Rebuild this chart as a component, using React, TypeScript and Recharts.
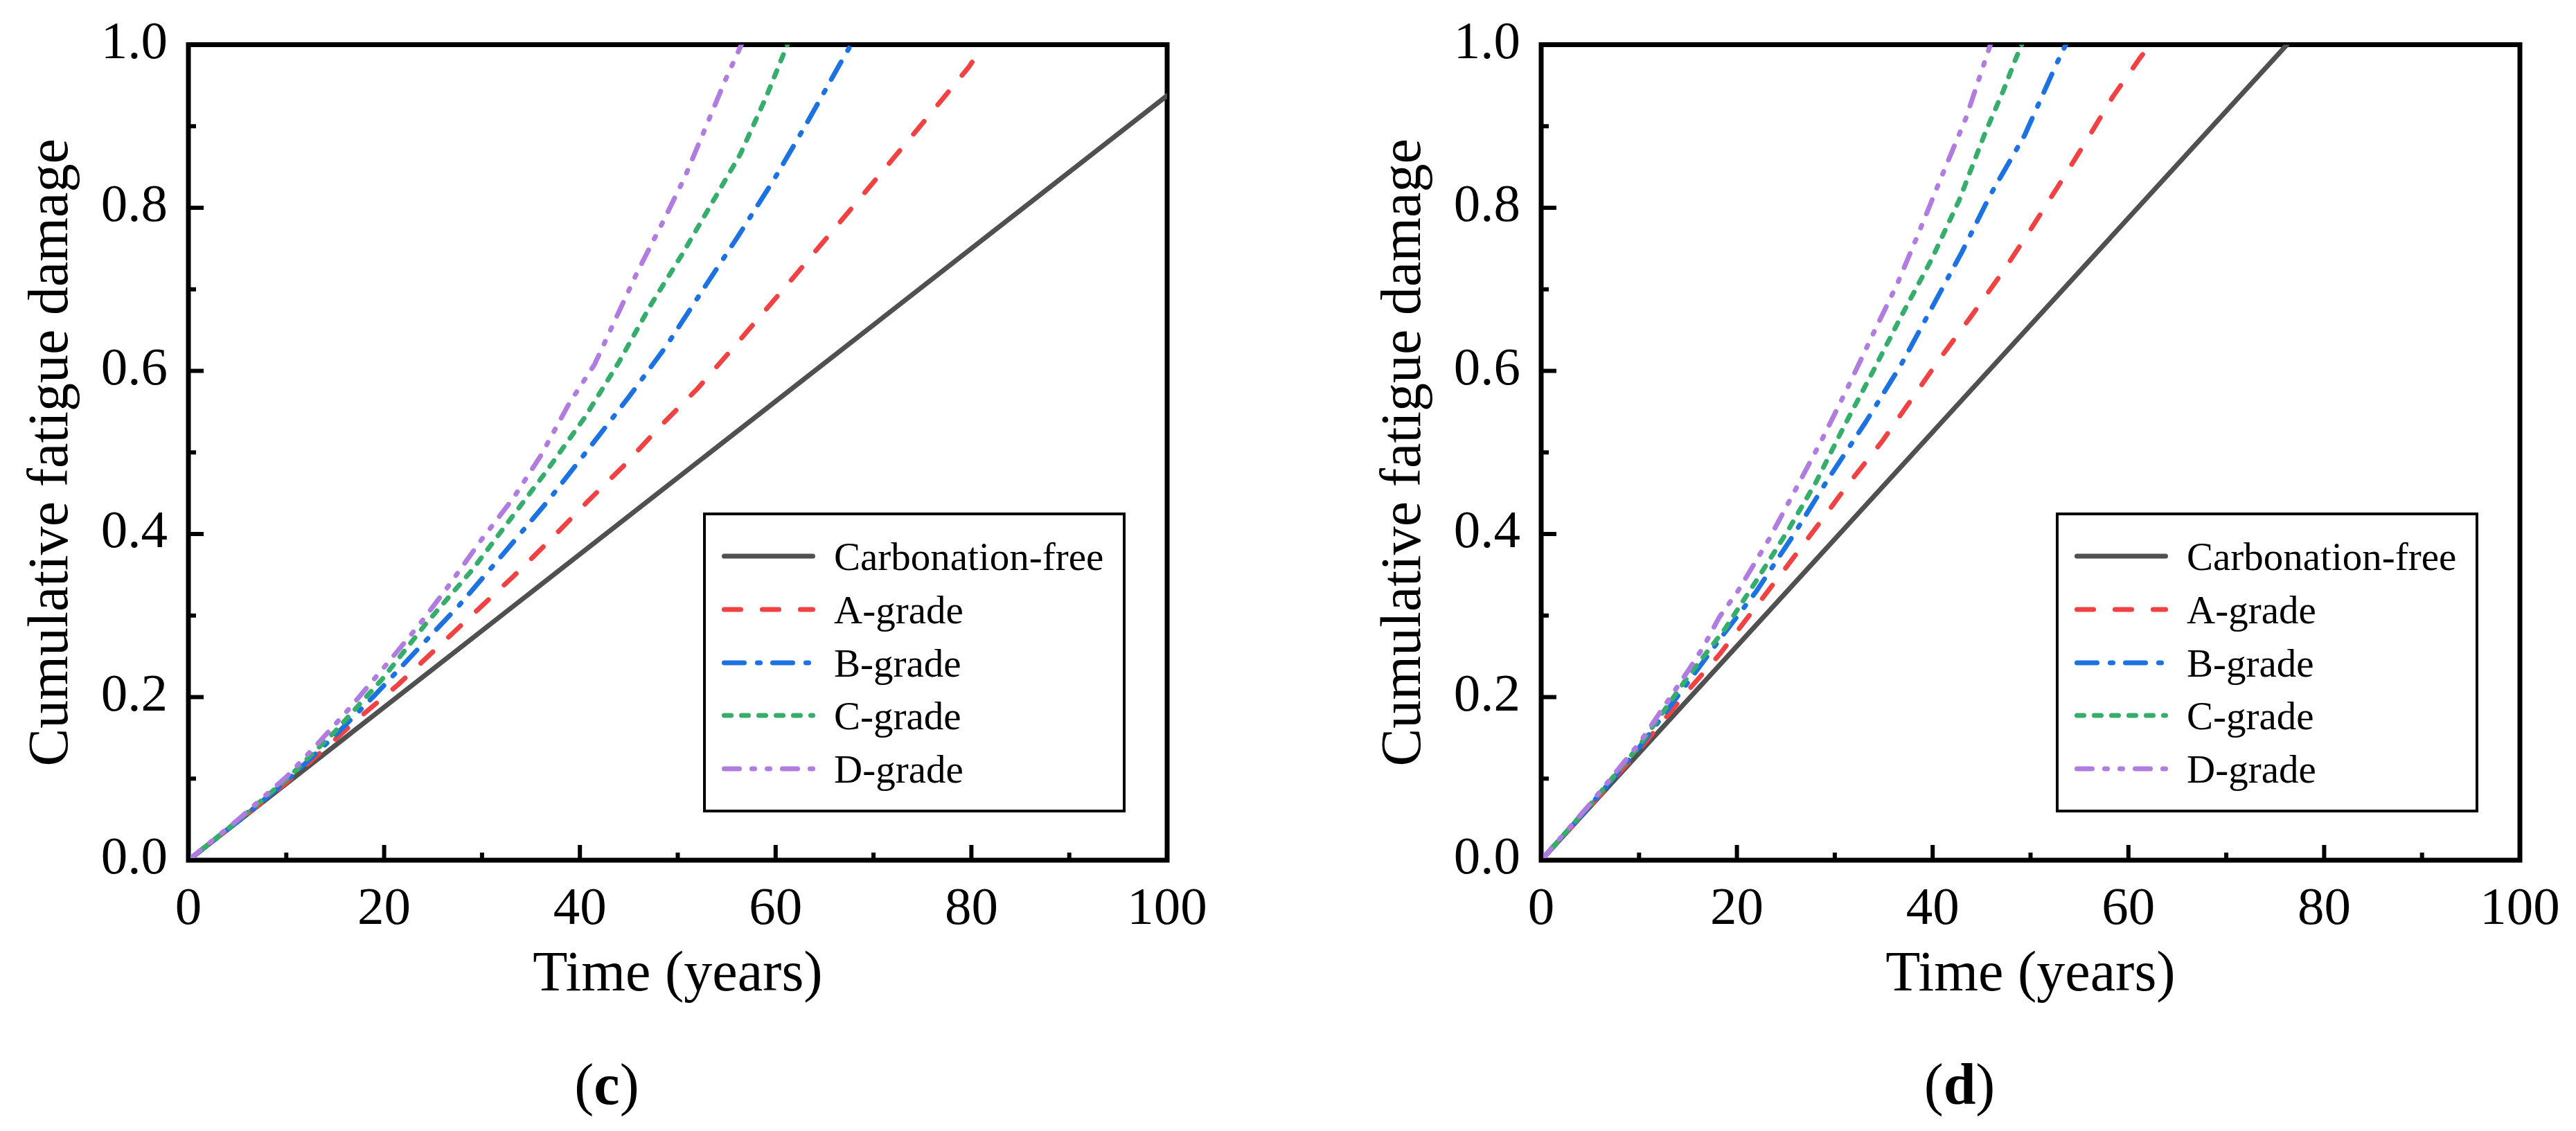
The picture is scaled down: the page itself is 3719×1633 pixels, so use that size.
import { LineChart, Line, XAxis, YAxis, ReferenceArea } from "recharts";

// Shared axis ticks (every 10 years / every 0.1; labels only on even ones)
const X_TICKS = [0, 10, 20, 30, 40, 50, 60, 70, 80, 90, 100];
const Y_TICKS = [0, 0.1, 0.2, 0.3, 0.4, 0.5, 0.6, 0.7, 0.8, 0.9, 1.0];

const SERIES_NAMES = ["Carbonation-free", "A-grade", "B-grade", "C-grade", "D-grade"];
const SERIES_COLORS = ["#505050", "#f04242", "#1b72e0", "#37ad6b", "#b07ce0"];
const SERIES_DASHES = ["", "24 31", "29 19 4 18", "10 15", "22 18 4 18 4 18"];

// Panel (c)
const C_FREE_T = [0, 50, 100];
const C_FREE_D = [0, 0.469, 0.9375];
const C_A_T = [0, 5, 10, 15, 17.2, 21.4, 25.2, 29.2, 33.2, 37, 40.8, 44.6, 48.2, 52, 55.5, 59, 62.2, 65.7, 69.2, 72.4, 76, 79.7, 81.3];
const C_A_D = [0, 0.047, 0.095, 0.148, 0.172, 0.215, 0.258, 0.303, 0.348, 0.393, 0.44, 0.485, 0.532, 0.578, 0.626, 0.675, 0.72, 0.77, 0.82, 0.866, 0.918, 0.972, 1.0];
const C_B_T = [0, 5, 10, 15, 19.1, 23.3, 27.7, 32.2, 36.7, 40.8, 45, 48.8, 52.6, 56.1, 59.8, 63.1, 66.6, 67.7];
const C_B_D = [0, 0.047, 0.097, 0.153, 0.203, 0.257, 0.313, 0.376, 0.44, 0.503, 0.568, 0.63, 0.7, 0.764, 0.834, 0.902, 0.977, 1.0];
const C_C_T = [0, 5, 10, 15, 19.8, 24.2, 29, 33.2, 36.4, 40.5, 44, 47.2, 50.4, 53.6, 56.4, 59, 61.2];
const C_C_D = [0, 0.048, 0.099, 0.158, 0.222, 0.289, 0.356, 0.423, 0.474, 0.543, 0.611, 0.68, 0.742, 0.808, 0.866, 0.935, 1.0];
const C_D_T = [0, 5, 10, 13, 16.3, 20.1, 23.6, 26.5, 30, 33.2, 36, 38.9, 41.5, 43.7, 45.9, 48.5, 50.7, 52.9, 54.8, 56.5];
const C_D_D = [0, 0.049, 0.102, 0.14, 0.184, 0.238, 0.289, 0.335, 0.394, 0.444, 0.496, 0.56, 0.608, 0.665, 0.722, 0.783, 0.837, 0.9, 0.955, 1.0];

// Panel (d)
const D_FREE_T = [0, 40, 76.2];
const D_FREE_D = [0, 0.525, 1.0];
const D_A_T = [0, 5, 10, 15, 18.2, 21.7, 24.9, 28.1, 31.3, 34.8, 37.6, 40.8, 44, 47.2, 50.1, 52.9, 55.8, 58.4, 61.2, 62.2];
const D_A_D = [0, 0.066, 0.135, 0.208, 0.252, 0.307, 0.357, 0.408, 0.46, 0.513, 0.561, 0.616, 0.668, 0.722, 0.775, 0.828, 0.884, 0.936, 0.984, 1.0];
const D_B_T = [0, 5, 10, 15, 18.2, 22, 25.8, 29.3, 33.2, 36.7, 39.9, 43, 45.9, 49.4, 52.6, 53.6];
const D_B_D = [0, 0.067, 0.138, 0.218, 0.27, 0.33, 0.399, 0.467, 0.538, 0.606, 0.677, 0.746, 0.816, 0.889, 0.975, 1.0];
const D_C_T = [0, 5, 10, 15, 18.8, 22, 25.2, 28.1, 30.9, 33.8, 36.7, 39.9, 42.7, 45.4, 47.2, 48.5, 49.1];
const D_C_D = [0, 0.068, 0.14, 0.225, 0.284, 0.343, 0.404, 0.464, 0.531, 0.597, 0.665, 0.737, 0.809, 0.893, 0.943, 0.983, 1.0];
const D_D_T = [0, 5, 10, 15, 16.6, 18.2, 20.1, 23.3, 26.1, 28.7, 31.3, 34.1, 36.4, 38.6, 40.8, 43.4, 45.9];
const D_D_D = [0, 0.069, 0.143, 0.232, 0.262, 0.298, 0.33, 0.394, 0.457, 0.516, 0.579, 0.65, 0.707, 0.77, 0.835, 0.91, 1.0];

const zip = (t: number[], d: number[]) => t.map((v, i) => ({ t: v, d: d[i] }));

const PANEL_C = [
  zip(C_FREE_T, C_FREE_D),
  zip(C_A_T, C_A_D),
  zip(C_B_T, C_B_D),
  zip(C_C_T, C_C_D),
  zip(C_D_T, C_D_D),
];
const PANEL_D = [
  zip(D_FREE_T, D_FREE_D),
  zip(D_A_T, D_A_D),
  zip(D_B_T, D_B_D),
  zip(D_C_T, D_C_D),
  zip(D_D_T, D_D_D),
];

const FONT = '"Liberation Serif", "Times New Roman", serif';
const W = 1850;
const H = 1633;
const PLOT_L = 272;
const PLOT_T = 64.5;
const PLOT_R = 1685;
const PLOT_B = 1242;
const X_AXIS_H = 100;

function XTick(props: any) {
  const { x, y, payload } = props;
  const major = payload.value % 20 === 0;
  return (
    <g>
      <line x1={x} x2={x} y1={y} y2={y - (major ? 22 : 11)} stroke="#000" strokeWidth={6} />
      {major && (
        <text x={x} y={y + 92} textAnchor="middle" fontSize={77} fontFamily={FONT} fill="#000">
          {payload.value}
        </text>
      )}
    </g>
  );
}

function YTick(props: any) {
  const { x, y, payload } = props;
  const major = Math.round(payload.value * 10) % 2 === 0;
  return (
    <g>
      <line x1={x} x2={x + (major ? 22 : 11)} y1={y} y2={y} stroke="#000" strokeWidth={6} />
      {major && (
        <text
          x={x - 30}
          y={y - 7}
          textAnchor="end"
          dominantBaseline="central"
          fontSize={77}
          fontFamily={FONT}
          fill="#000"
        >
          {payload.value.toFixed(1)}
        </text>
      )}
    </g>
  );
}

function Panel({ left, tag, series }: { left: number; tag: string; series: { t: number; d: number }[][] }) {
  const legendTop = 742;
  const legendRows = [803, 880, 957, 1033, 1110];
  return (
    <div style={{ position: "absolute", left, top: 0, width: W, height: H }}>
      <LineChart
        width={W}
        height={H}
        margin={{ top: PLOT_T, right: W - PLOT_R, bottom: H - PLOT_B - X_AXIS_H, left: 0 }}
      >
        <XAxis
          type="number"
          dataKey="t"
          domain={[0, 100]}
          ticks={X_TICKS}
          interval={0}
          allowDataOverflow
          height={X_AXIS_H}
          axisLine={false}
          tickLine={false}
          tickSize={0}
          tickMargin={0}
          tick={<XTick />}
        />
        <YAxis
          type="number"
          dataKey="d"
          domain={[0, 1]}
          ticks={Y_TICKS}
          interval={0}
          allowDataOverflow
          width={PLOT_L}
          axisLine={false}
          tickLine={false}
          tickSize={0}
          tickMargin={0}
          tick={<YTick />}
        />
        {series.map((rows, i) => (
          <Line
            key={SERIES_NAMES[i]}
            data={rows}
            dataKey="d"
            type="linear"
            stroke={SERIES_COLORS[i]}
            strokeWidth={7}
            strokeDasharray={SERIES_DASHES[i] || undefined}
            strokeLinecap="round"
            strokeLinejoin="round"
            dot={false}
            activeDot={false}
            isAnimationActive={false}
          />
        ))}
        <ReferenceArea x1={0} x2={100} y1={0} y2={1} fill="none" fillOpacity={0} stroke="#000" strokeWidth={7} />
      </LineChart>

      <svg
        width={W}
        height={H}
        style={{ position: "absolute", left: 0, top: 0, pointerEvents: "none" }}
        fontFamily={FONT}
      >
        <text
          transform={`translate(97, ${(PLOT_T + PLOT_B) / 2}) rotate(-90)`}
          textAnchor="middle"
          fontSize={82}
          fill="#000"
        >
          Cumulative fatigue damage
        </text>
        <text x={(PLOT_L + PLOT_R) / 2} y={1430} textAnchor="middle" fontSize={82} fill="#000">
          Time (years)
        </text>
        <text x={876} y={1594} textAnchor="middle" fontSize={84} fill="#000">
          <tspan>(</tspan>
          <tspan fontWeight="bold">{tag}</tspan>
          <tspan>)</tspan>
        </text>

        <rect x={1017} y={legendTop} width={606} height={429} fill="#fff" stroke="#000" strokeWidth={4} />
        {SERIES_NAMES.map((name, i) => (
          <g key={name}>
            <line
              x1={1045.5}
              x2={1173.5}
              y1={legendRows[i]}
              y2={legendRows[i]}
              stroke={SERIES_COLORS[i]}
              strokeWidth={7}
              strokeDasharray={SERIES_DASHES[i] || undefined}
              strokeLinecap="round"
            />
            <text x={1204} y={legendRows[i]} dominantBaseline="central" fontSize={57} fill="#000">
              {name}
            </text>
          </g>
        ))}
      </svg>
    </div>
  );
}

export default function App() {
  return (
    <div style={{ position: "absolute", left: 0, top: 0, width: 3719, height: 1633, background: "#fff" }}>
      <Panel left={0} tag="c" series={PANEL_C} />
      <Panel left={1953} tag="d" series={PANEL_D} />
    </div>
  );
}
